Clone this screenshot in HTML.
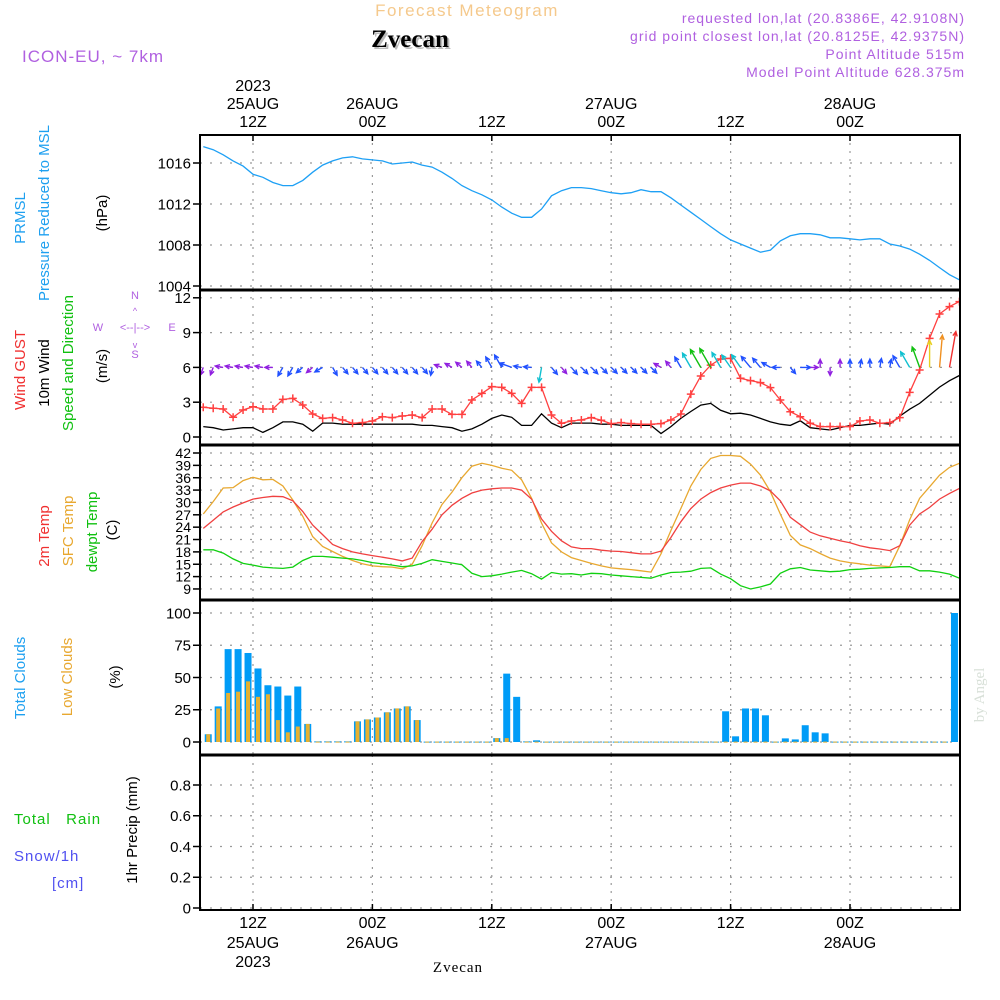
<!DOCTYPE html>
<html><head><meta charset="utf-8"><title>Forecast Meteogram Zvecan</title>
<style>
html,body{margin:0;padding:0;background:#fff;}
svg{display:block;}
text{font-family:"Liberation Sans",sans-serif;}
</style></head>
<body>
<svg id="chart" width="1000" height="1000" viewBox="0 0 1000 1000" xmlns="http://www.w3.org/2000/svg">
<defs><clipPath id="plotclip"><rect x="200" y="135" width="760" height="775"/></clipPath></defs>
<g>
<text x="467" y="16" text-anchor="middle" font-size="17" letter-spacing="1.5" fill="#f5c98c">Forecast Meteogram</text>
<text x="412" y="49" text-anchor="middle" font-size="25" font-weight="bold" style="font-family:'Liberation Serif',serif" fill="#bbb">Zvecan</text>
<text x="410" y="47" text-anchor="middle" font-size="25" font-weight="bold" style="font-family:'Liberation Serif',serif" fill="#000">Zvecan</text>
<text x="22" y="62" font-size="17" letter-spacing="1" fill="#b060e0">ICON-EU, ~ 7km</text>
<text x="965" y="23" text-anchor="end" font-size="14" letter-spacing="1" fill="#b060e0">requested lon,lat (20.8386E, 42.9108N)</text>
<text x="965" y="41" text-anchor="end" font-size="14" letter-spacing="1" fill="#b060e0">grid point closest lon,lat (20.8125E, 42.9375N)</text>
<text x="965" y="59" text-anchor="end" font-size="14" letter-spacing="1" fill="#b060e0">Point Altitude 515m</text>
<text x="965" y="77" text-anchor="end" font-size="14" letter-spacing="1" fill="#b060e0">Model Point Altitude 628.375m</text>
</g>
<g font-size="15">
<text transform="translate(25,218) rotate(-90)" text-anchor="middle" fill="#1ea0f0">PRMSL</text>
<text transform="translate(49,213) rotate(-90)" text-anchor="middle" fill="#1ea0f0">Pressure Reduced to MSL</text>
<text transform="translate(107,213) rotate(-90)" text-anchor="middle" fill="#000">(hPa)</text>
<text transform="translate(25,370) rotate(-90)" text-anchor="middle" fill="#f03030">Wind GUST</text>
<text transform="translate(49,373) rotate(-90)" text-anchor="middle" fill="#000">10m Wind</text>
<text transform="translate(73,363) rotate(-90)" text-anchor="middle" fill="#10c010">Speed and Direction</text>
<text transform="translate(107,366) rotate(-90)" text-anchor="middle" fill="#000">(m/s)</text>
<g fill="#b060e0" font-size="11">
<text x="98" y="331" text-anchor="middle">W</text><text x="172" y="331" text-anchor="middle">E</text>
<text x="135" y="299" text-anchor="middle">N</text><text x="135" y="358" text-anchor="middle">S</text>
<text x="135" y="331" text-anchor="middle">&lt;--|--&gt;</text>
<text x="135" y="314" text-anchor="middle" font-size="9">^</text><text x="135" y="348" text-anchor="middle" font-size="9">v</text>
</g>
<text transform="translate(49,536) rotate(-90)" text-anchor="middle" fill="#f03030">2m Temp</text>
<text transform="translate(73,531) rotate(-90)" text-anchor="middle" fill="#e8a830">SFC Temp</text>
<text transform="translate(97,532) rotate(-90)" text-anchor="middle" fill="#10c010">dewpt Temp</text>
<text transform="translate(117,530) rotate(-90)" text-anchor="middle" fill="#000">(C)</text>
<text transform="translate(25,678) rotate(-90)" text-anchor="middle" fill="#1ea0f0">Total Clouds</text>
<text transform="translate(72,677) rotate(-90)" text-anchor="middle" fill="#e8a830">Low Clouds</text>
<text transform="translate(120,677) rotate(-90)" text-anchor="middle" fill="#000">(%)</text>
<text x="14" y="824" fill="#10c010" letter-spacing="1">Total&#160;&#160;&#160;Rain</text>
<text x="14" y="861" fill="#5050f0" letter-spacing="1">Snow/1h</text>
<text x="52" y="888" fill="#5050f0" letter-spacing="1">[cm]</text>
<text transform="translate(137,830) rotate(-90)" text-anchor="middle" fill="#000">1hr Precip (mm)</text>
</g>
<text transform="translate(984,695) rotate(-90)" text-anchor="middle" font-size="15" style="font-family:'Liberation Serif',serif" fill="#d8e0d8">by Angel</text>
<text x="458" y="972" text-anchor="middle" font-size="15" style="font-family:'Liberation Serif',serif" letter-spacing="1" fill="#000">Zvecan</text>
<g id="grid"></g>
<g id="marks" clip-path="url(#plotclip)"></g>
<g id="axes"></g>
</svg>
<script>
const startHour = 7;
const pressure = [1017.6,1017.3,1016.8,1016.2,1015.7,1014.9,1014.6,1014.1,1013.8,1013.8,
1014.3,1015.1,1015.8,1016.2,1016.5,1016.6,1016.4,1016.3,1016.2,1015.9,
1016.0,1016.1,1015.8,1015.6,1015.1,1014.5,1013.8,1013.3,1012.9,1012.4,
1011.7,1011.1,1010.7,1010.7,1011.5,1012.8,1013.3,1013.6,1013.6,1013.5,
1013.3,1013.1,1013.0,1013.1,1013.4,1013.2,1013.2,1012.6,1011.9,1011.2,
1010.5,1009.8,1009.1,1008.5,1008.1,1007.7,1007.3,1007.5,1008.4,1008.9,
1009.1,1009.1,1009.0,1008.7,1008.7,1008.6,1008.5,1008.6,1008.6,1008.1,
1007.9,1007.6,1007.1,1006.5,1005.8,1005.1,1004.6];
const wind10m = [0.9,0.8,0.6,0.7,0.8,0.8,0.4,0.8,1.3,1.3,
1.1,0.5,1.2,1.2,1.1,1.1,1.1,1.1,1.1,1.1,
1.1,1.1,1.0,1.0,0.9,0.8,0.5,0.7,1.1,1.6,
1.9,1.7,1.0,1.0,2.0,1.2,0.8,1.2,1.2,1.2,
1.1,1.1,1.0,1.0,1.0,1.0,0.3,0.9,1.6,2.2,
2.75,2.9,2.3,2.0,2.05,1.9,1.6,1.3,1.1,1.0,
1.4,0.8,0.7,0.6,0.8,1.0,1.0,1.1,1.2,1.1,
1.8,2.4,2.9,3.6,4.3,4.85,5.3];
const windDir = [20,20,100,100,100,100,100,90,30,30,
50,50,60,330,320,320,320,320,320,320,
320,320,320,10,110,120,130,140,140,150,
150,110,100,95,10,320,320,320,315,315,
315,315,315,315,315,315,120,140,150,150,
150,150,150,145,145,140,140,120,90,320,
270,270,180,0,180,180,190,180,190,190,
150,150,160,180,185,190,200];
const gust = [2.56,2.48,2.41,1.70,2.33,2.61,2.41,2.41,3.24,3.33,
2.76,1.98,1.61,1.67,1.47,1.18,1.24,1.38,1.75,1.67,
1.81,1.9,1.67,2.41,2.41,1.95,1.95,3.19,3.76,4.34,
4.28,3.76,2.9,4.28,4.28,1.9,1.18,1.38,
1.47,1.67,1.44,1.15,1.24,1.15,1.1,1.1,1.15,1.47,
1.98,3.7,5.26,6.2,6.72,6.78,5.06,4.86,4.69,4.26,
3.19,2.18,1.75,1.18,0.9,0.9,0.9,0.9,1.38,1.47,
1.18,1.24,1.67,3.85,5.78,8.5,10.6,11.24,11.67];
const temp2m = [23.7,25.7,27.7,28.9,29.9,30.8,31.2,31.5,31.4,30.4,
27.8,24.5,22.2,19.8,18.8,18.0,17.5,17.1,16.7,16.3,
15.8,16.5,20.5,23.5,27.0,29.3,31.0,32.3,33.0,33.3,
33.5,33.5,33.0,30.8,26.0,23.0,20.7,19.2,
18.8,18.8,18.4,18.2,18.1,17.8,17.5,17.5,18.2,21.5,
25.3,28.5,30.8,32.4,33.5,34.2,34.7,34.7,34.0,32.8,
30.4,26.4,24.6,22.8,21.9,21.3,20.7,20.2,19.5,19.0,
18.7,18.3,19.5,24.5,27.2,28.8,30.8,32.2,33.4];
const tempSfc = [27.2,30.2,33.5,33.6,35.3,36.1,35.5,35.6,34.0,30.6,
26.6,21.7,19.3,18.1,16.9,15.9,15.1,14.6,14.4,14.3,
13.9,15.0,19.5,25.0,29.5,32.5,36.0,38.8,39.5,39.0,
38.3,37.8,35.5,31.0,25.0,20.2,18.0,16.6,
15.9,15.2,14.6,14.1,13.9,13.7,13.4,13.1,17.5,23.2,
28.5,34.0,38.0,40.7,41.4,41.4,41.2,39.3,36.6,32.6,
27.2,22.0,19.7,18.8,17.6,16.5,15.8,15.4,15.1,14.8,
14.6,14.4,19.5,25.8,31.0,33.8,36.6,38.5,39.5];
const dewpt = [18.5,18.5,17.7,16.3,15.2,14.8,14.3,14.1,14.0,14.3,
15.9,16.9,16.9,16.7,16.5,16.3,15.9,15.4,15.1,14.8,
14.4,14.6,15.2,16.1,15.7,15.3,14.9,12.8,12.0,12.2,
12.6,13.1,13.5,12.7,11.4,13.0,12.6,12.7,
12.4,12.8,12.7,12.4,12.2,12.0,11.8,11.6,12.4,13.0,
13.1,13.3,14.0,14.1,12.6,11.5,9.8,9.0,9.5,10.2,
12.8,13.9,14.2,13.6,13.4,13.2,13.3,13.7,13.8,14.0,
14.1,14.2,14.4,14.4,13.4,13.4,13.1,12.6,11.6];
const totalClouds = [6,27.6,72,72,69,57,44,43,36,43,
14,0.5,0.5,0.5,0.5,16,17.5,19,23,26,
27.6,17,0.3,0.3,0.3,0.3,0.3,0.3,0.3,3,
53,35,0.5,1.3,0.3,0.3,0.3,0.3,0.3,0.3,
0.3,0.3,0.3,0.3,0.3,0.3,0.3,0.3,0.3,0.3,
0.3,0.3,23.8,4.4,26,26,20.7,0.3,2.8,2,
13,7.5,6.7,0.3,0.3,0.3,0.3,0.3,0.3,0.3,
0.3,0.3,0.3,0.3,0.3,100];
const lowClouds = [6,26,38,39,47,35,37,17,7.5,12,
14,0.3,0.3,0.3,0.3,16,17.5,19,23,26,
27.6,17,0.3,0.3,0.3,0.3,0.3,0.3,0.3,3,
3,0,0.3,0.3,0.3,0.3,0.3,0.3,0.3,0.3,
0.3,0.3,0.3,0.3,0.3,0.3,0.3,0.3,0.3,0.3,
0.3,0.3,0.3,0.3,0.3,0.3,0.3,0.3,0.3,0.3,
0.3,0.3,0.3,0.3,0.3,0.3,0.3,0.3,0.3,0.3,
0.3,0.3,0.3,0.3,0.3,0];
const gridHours = [12,24,36,48,60,72];
const topDayLabels = ["25AUG","26AUG","","27AUG","","28AUG"];
const hourLabels = ["12Z","00Z","12Z","00Z","12Z","00Z"];
const pressureTicks = [1004,1008,1012,1016];
const windTicks = [0,3,6,9,12];
const tempTicks = [9,12,15,18,21,24,27,30,33,36,39,42];
const cloudTicks = [0,25,50,75,100];
const precipTicks = [0,0.2,0.4,0.6,0.8];

const NS = "http://www.w3.org/2000/svg";
const L = 200, R = 960;
const x = h => 253 + (h - 12) * 9.95;
const yP = p => 163 + (1016 - p) * 10.25;
const yW = w => 437 - w * 11.6;
const yT = t => 453 + (42 - t) * 4.12;
const yC = c => 742 - c * 1.29;
const yR = r => 908 - r * 153.75;
const panels = [[135,290],[290,445],[445,600],[600,755],[755,910]];
const gridG = document.getElementById('grid');
const marks = document.getElementById('marks');
const axes = document.getElementById('axes');
function mk(tag, attrs, parent) {
  const e = document.createElementNS(NS, tag);
  for (const k in attrs) e.setAttribute(k, attrs[k]);
  parent.appendChild(e);
  return e;
}
gridHours.forEach(h => {
  panels.forEach(p => {
    const g = mk('line', {x1: x(h), x2: x(h), y1: p[0], y2: p[1], stroke: '#999', 'stroke-width': 1.2, 'stroke-dasharray': '2,6'}, gridG);
    
    
  });
});
function hgrid(ticks, yf, fmt, fs, name) {
  ticks.forEach(t => {
    const y = yf(t);
    const g = mk('line', {x1: L, x2: R, y1: y, y2: y, stroke: '#999', 'stroke-width': 1.2, 'stroke-dasharray': '2,8'}, gridG);
    
    
    const tk = mk('line', {x1: L - 7, x2: L, y1: y, y2: y, stroke: '#000', 'stroke-width': 1.5}, axes);
    
    
    const tx = mk('text', {x: L - 9, y: y + fs * 0.36, 'text-anchor': 'end', 'font-size': fs, fill: '#000'}, axes);
    tx.textContent = fmt(t);
    
    
  });
}
hgrid(pressureTicks, yP, v => String(v), 15, 'pressure');
hgrid(windTicks, yW, v => String(v), 15, 'wind');
hgrid(tempTicks, yT, v => String(v), 14, 'temp');
hgrid(cloudTicks, yC, v => String(v), 15, 'cloud');
hgrid(precipTicks, yR, v => v === 0 ? '0' : v.toFixed(1), 15, 'precip');

function line(arr, xf, yf, color, name, w) {
  const pts = arr.map((v, i) => xf(startHour + i).toFixed(1) + ',' + yf(v).toFixed(1)).join(' ');
  const e = mk('polyline', {points: pts, fill: 'none', stroke: color, 'stroke-width': w || 1.3}, marks);
  
  
}
line(pressure, x, yP, '#1ea0f5', 'pressure-line');
totalClouds.forEach((v, i) => {
  const cx = x(startHour + i + 0.5);
  const b = mk('rect', {x: cx - 3.5, y: yC(v), width: 7, height: Math.max(1, yC(0) - yC(v)), fill: '#009cf7'}, marks);
  
  
});
lowClouds.forEach((v, i) => {
  if (v <= 0) return;
  const cx = x(startHour + i + 0.5);
  const b = mk('rect', {x: cx - 2, y: yC(v), width: 4, height: Math.max(1, yC(0) - yC(v)), fill: '#e6b030'}, marks);
  
  
});
line(tempSfc, x, yT, '#e8a830', 'sfc-temp-line');
line(temp2m, x, yT, '#f04040', 't2m-line');
line(dewpt, x, yT, '#10d010', 'dewpoint-line');
line(wind10m, x, yW, '#000', 'wind-speed-line');
line(gust, x, yW, '#ff4040', 'gust-line');
gust.forEach((v, i) => {
  const cx = x(startHour + i), cy = yW(v);
  const m = mk('path', {d: `M${cx-4},${cy}H${cx+4}M${cx},${cy-4}V${cy+4}`, stroke: '#ff4040', 'stroke-width': 1.5}, marks);
  
  
});
function windColor(s) {
  if (s < 0.95) return '#9020e0';
  if (s < 2.0) return '#2050ff';
  if (s < 2.6) return '#10c0d0';
  if (s < 3.4) return '#10c010';
  if (s < 4.0) return '#e8d020';
  if (s < 4.6) return '#f09020';
  return '#f03030';
}
wind10m.forEach((s, i) => {
  const d = windDir[i] * Math.PI / 180;
  const len = Math.max(8, s * 7.5);
  const x0 = x(startHour + i), y0 = yW(6);
  const ux = -Math.sin(d), uy = Math.cos(d);
  const x1 = x0 + ux * len, y1 = y0 + uy * len;
  const a = 0.45, hl = 5;
  const bx = -ux, by = -uy;
  const h1x = x1 + hl * (bx * Math.cos(a) - by * Math.sin(a)), h1y = y1 + hl * (bx * Math.sin(a) + by * Math.cos(a));
  const h2x = x1 + hl * (bx * Math.cos(-a) - by * Math.sin(-a)), h2y = y1 + hl * (bx * Math.sin(-a) + by * Math.cos(-a));
  const c = windColor(s);
  const ar = mk('path', {d: `M${x0},${y0}L${x1},${y1}M${h1x},${h1y}L${x1},${y1}L${h2x},${h2y}`, stroke: c, 'stroke-width': 1.4, fill: 'none'}, marks);
  
  
});
panels.forEach((p, k) => {
  const f = mk('rect', {x: L, y: p[0], width: R - L, height: p[1] - p[0], fill: 'none', stroke: '#000', 'stroke-width': 2}, axes);
  
  
});
[290,445,600,755].forEach(y => {
  const s = mk('line', {x1: L, x2: R, y1: y, y2: y, stroke: '#000', 'stroke-width': 3}, axes);
  
  
});
gridHours.forEach((h, k) => {
  const t1 = mk('text', {x: x(h), y: 127, 'text-anchor': 'middle', 'font-size': 16}, axes);
  t1.textContent = hourLabels[k];
  
  
  if (topDayLabels[k]) {
    const t2 = mk('text', {x: x(h), y: 109, 'text-anchor': 'middle', 'font-size': 16}, axes);
    t2.textContent = topDayLabels[k];
    
    
    const b2 = mk('text', {x: x(h), y: 948, 'text-anchor': 'middle', 'font-size': 16}, axes);
    b2.textContent = topDayLabels[k];
    
    
  }
  const b1 = mk('text', {x: x(h), y: 928, 'text-anchor': 'middle', 'font-size': 16}, axes);
  b1.textContent = hourLabels[k];
  
  
  [[135,141],[904,910]].forEach(s => {
    const tk = mk('line', {x1: x(h), x2: x(h), y1: s[0], y2: s[1], stroke: '#000', 'stroke-width': 1.5}, axes);
    
    
  });
});
const ty = mk('text', {x: x(12), y: 91, 'text-anchor': 'middle', 'font-size': 16}, axes);
ty.textContent = '2023';


const by = mk('text', {x: x(12), y: 967, 'text-anchor': 'middle', 'font-size': 16}, axes);
by.textContent = '2023';


</script>
</body></html>
